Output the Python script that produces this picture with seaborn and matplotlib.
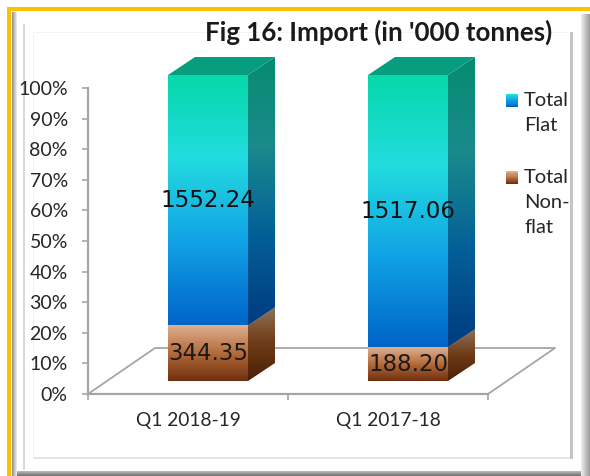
import numpy as np
import pandas as pd
import matplotlib
matplotlib.use("Agg")
import matplotlib.pyplot as plt
import seaborn as sns
from matplotlib.colors import LinearSegmentedColormap as LSC
from matplotlib.patches import Polygon, Rectangle
from matplotlib.legend_handler import HandlerBase

periods = ["Q1 2018-19", "Q1 2017-18"]
total_flat = [1552.24, 1517.06]
total_non_flat = [344.35, 188.20]
flat_label = "Total\nFlat"
non_flat_label = "Total\nNon-\nflat"
title = "Fig 16: Import (in '000 tonnes)"
y_ticks = list(range(0, 101, 10))

W, H = 590, 476
AX_L, AX_R, AX_B, AX_T = 88, 488, 394, 88
PX_X = 2 / (AX_R - AX_L)
PX_Y = 100 / (AX_B - AX_T)
BAR_DX, BAR_DY = 20 * PX_X, 13 * PX_Y
DEPTH_X, DEPTH_Y = 27 * PX_X, 18 * PX_Y
FLOOR_X, FLOOR_Y = 67 * PX_X, 46 * PX_Y
GREY = "#A6A6A6"
TXT = "#262626"
FONT = "Lato"

flat_front = ["#06D8AA", "#22DCDF", "#11A2E6", "#0064C8"]
flat_side = ["#058C70", "#1A8A8C", "#035F98", "#003C80"]
non_front = ["#DFB090", "#B56B3A", "#6E2E0E"]
non_side = ["#8E7256", "#6E3A16", "#4A2006"]
top_colour = "#069E7E"

sns.set_theme(style="white")
plt.rcParams["font.family"] = [FONT, "DejaVu Sans"]

df = pd.DataFrame({"period": periods, "flat": total_flat, "non": total_non_flat})
tot = df["flat"] + df["non"]
df["non_pct"] = df["non"] / tot * 100
df["flat_pct"] = df["flat"] / tot * 100

fig = plt.figure(figsize=(W / 100, H / 100), dpi=100, facecolor="white")


def frame(x0, y0, x1, y1, color, z=0):
    fig.add_artist(Rectangle((x0 / W, 1 - y1 / H), (x1 - x0) / W, (y1 - y0) / H,
                             transform=fig.transFigure, facecolor=color,
                             edgecolor="none", zorder=z))


def band(x0, y0, x1, y1, colours, vertical=False):
    a = fig.add_axes([x0 / W, 1 - y1 / H, (x1 - x0) / W, (y1 - y0) / H], zorder=-5)
    g = np.linspace(0, 1, 64)
    g = g[:, None] if vertical else g[None, :]
    a.imshow(g, cmap=LSC.from_list("b", colours), aspect="auto")
    a.axis("off")


# slide-like frame
frame(7, 7, 590, 11, "#FFC000", 1)
frame(7, 7, 11, 476, "#FFC000", 1)
band(12, 12, 17, 476, ["#8C8C8C", "#F2F2F2"])
frame(23.5, 24, 25, 470, "#D9D9D9")
frame(33, 32, 34, 458, "#F2F2F2")
frame(33, 32, 569, 33, "#F4F4F4")
frame(33, 457, 570, 459, "#E4E4E4")
frame(570, 32, 573, 459, "#C4C4C4")
band(581, 14, 590, 476, ["#F0F0F0", "#9A9A9A"])
band(17, 471, 581, 476, ["#BDBDBD", "#6E6E6E"], vertical=True)

ax = fig.add_axes([AX_L / W, 1 - AX_B / H, (AX_R - AX_L) / W, (AX_B - AX_T) / H])
ax.patch.set_alpha(0)

sns.barplot(data=df, x="period", y="non_pct", width=0.4, color="#B56B3A", ax=ax,
            order=periods, errorbar=None)
sns.barplot(data=df, x="period", y="flat_pct", bottom=df["non_pct"].values, width=0.4,
            color="#11A2E6", ax=ax, order=periods, errorbar=None)


def gradient(poly_xy, colours, z):
    poly = Polygon(poly_xy, closed=True, transform=ax.transData)
    xs = [p[0] for p in poly_xy]
    ys = [p[1] for p in poly_xy]
    im = ax.imshow(np.linspace(0, 1, 256)[:, None], cmap=LSC.from_list("g", colours),
                   extent=(min(xs), max(xs), min(ys), max(ys)), origin="upper",
                   aspect="auto", zorder=z, interpolation="bilinear")
    im.set_clip_box(fig.bbox)
    im.set_clip_path(poly)


n_cat = len(periods)
for i, bar in enumerate(list(ax.patches)):
    x, y, w, h = bar.get_x() + BAR_DX, bar.get_y() + BAR_DY, bar.get_width(), bar.get_height()
    bar.set_visible(False)
    is_flat = i >= n_cat
    gradient([(x, y), (x + w, y), (x + w, y + h), (x, y + h)],
             flat_front if is_flat else non_front, 4)
    gradient([(x + w, y), (x + w + DEPTH_X, y + DEPTH_Y),
              (x + w + DEPTH_X, y + h + DEPTH_Y), (x + w, y + h)],
             flat_side if is_flat else non_side, 4)
    if is_flat:
        ax.add_patch(Polygon([(x, y + h), (x + w, y + h),
                              (x + w + DEPTH_X, y + h + DEPTH_Y), (x + DEPTH_X, y + h + DEPTH_Y)],
                             closed=True, facecolor=top_colour, edgecolor="none",
                             zorder=4, clip_on=False))

for i in range(n_cat):
    cx = i + BAR_DX
    ax.text(cx, BAR_DY + df["non_pct"][i] + df["flat_pct"][i] / 2, f"{df['flat'][i]:.2f}",
            ha="center", va="center", fontsize=16.5, family="DejaVu Sans", color="#111111", zorder=6)
    ax.text(cx, BAR_DY + df["non_pct"][i] / 2, f"{df['non'][i]:.2f}",
            ha="center", va="center", fontsize=16.5, family="DejaVu Sans", color="#1a1a1a", zorder=6)

# floor
ax.plot([-0.5, -0.5 + FLOOR_X, 1.5 + FLOOR_X, 1.5], [0, FLOOR_Y, FLOOR_Y, 0],
        color=GREY, lw=1.3, clip_on=False, zorder=2)

ax.set_xlim(-0.5, 1.5)
ax.set_ylim(0, 100)
ax.set_xlabel("")
ax.set_ylabel("")
ax.set_yticks(y_ticks)
ax.set_yticklabels([f"{t}%" for t in y_ticks], fontsize=14, color=TXT)
ax.set_xticks([-0.5, 0.5, 1.5])
ax.set_xticklabels(["", "", ""])
ax.set_xticks([0, 1], minor=True)
ax.set_xticklabels(periods, minor=True, fontsize=13.8, color=TXT)
ax.tick_params(axis="y", which="major", left=True, length=4.5, width=1.2, color=GREY, pad=10)
ax.tick_params(axis="x", which="major", bottom=True, length=4.5, width=1.2, color=GREY)
ax.tick_params(axis="x", which="minor", bottom=False, length=0, pad=13)
sns.despine(ax=ax)
for s in ("left", "bottom"):
    ax.spines[s].set_color(GREY)
    ax.spines[s].set_linewidth(1.6)

LINE_PT = 24.5 * 0.72


class GradHandler(HandlerBase):
    def __init__(self, colours, lines):
        super().__init__()
        self.colours = colours
        self.lines = lines

    def create_artists(self, legend, orig, xd, yd, width, height, fontsize, trans):
        cmap = LSC.from_list("l", self.colours)
        n = 12
        lift = (self.lines - 1) / 2 * LINE_PT
        out = []
        for k in range(n):
            out.append(Rectangle((-xd, -yd + lift + height * (n - 1 - k) / n), width, height / n + 0.1,
                                 facecolor=cmap(k / (n - 1)), edgecolor="none", transform=trans))
        return out


h_flat = Rectangle((0, 0), 1, 1, label=flat_label)
h_non = Rectangle((0, 0), 1, 1, label=non_flat_label)
leg = ax.legend(handles=[h_flat, h_non],
                handler_map={h_flat: GradHandler(["#22DCDF", "#11A2E6", "#0064C8"], 2),
                             h_non: GradHandler(["#DFB090", "#B56B3A", "#6E2E0E"], 3)},
                loc="upper left", bbox_to_anchor=(506 / W, 1 - 92 / H), bbox_transform=fig.transFigure,
                frameon=False, fontsize=14.5, labelcolor=TXT, handlelength=0.6, handleheight=0.6,
                handletextpad=0.3, labelspacing=1.75, borderpad=0, borderaxespad=0)
for t in leg.get_texts():
    t.set_linespacing(1.56)

fig.text(552 / W, 1 - 32 / H, title, ha="right", va="center", fontsize=18.6,
         fontweight="bold", color="#1a1a1a", family=FONT)

fig.savefig("out.png", dpi=100)
